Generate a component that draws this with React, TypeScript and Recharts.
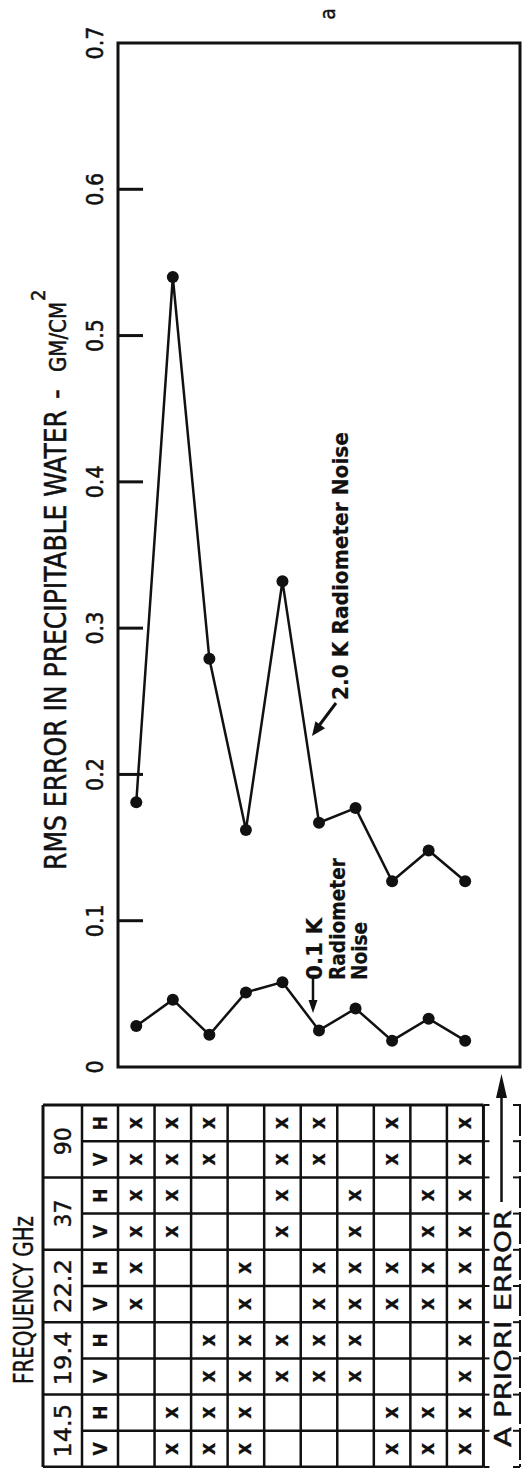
import React from 'react';
import { LineChart, Line, XAxis, YAxis, ReferenceArea } from 'recharts';

// ---------- data ----------
const caseIds = [1, 2, 3, 4, 5, 6, 7, 8, 9, 10];
const noise2K = [0.181, 0.54, 0.279, 0.162, 0.332, 0.167, 0.177, 0.127, 0.148, 0.127];
const noise01K = [0.028, 0.046, 0.022, 0.051, 0.058, 0.025, 0.04, 0.018, 0.033, 0.018];
const yTicks = [0, 0.1, 0.2, 0.3, 0.4, 0.5, 0.6, 0.7];
const yTickLabels = ['0', '0.1', '0.2', '0.3', '0.4', '0.5', '0.6', '0.7'];

// frequency channels (GHz); both polarisations (V, H) used in the same cases
const freqLabels = ['14.5', '19.4', '22.2', '37', '90'];
const polLabels = ['V', 'H'];
const use14_5 = [2, 3, 4, 8, 9, 10];
const use19_4 = [3, 4, 5, 6, 7, 10];
const use22_2 = [1, 4, 6, 7, 8, 9, 10];
const use37 = [1, 2, 5, 7, 9, 10];
const use90 = [1, 2, 3, 5, 6, 8, 10];
const freqUse = [use14_5, use19_4, use22_2, use37, use90];

const data = caseIds.map((c, i) => ({ pos: c - 0.5, hi: noise2K[i], lo: noise01K[i] }));

// ---------- layout ----------
const W = 523;
const H = 1468;
const PLOT_L = 118;
const PLOT_R = 520;
const PLOT_T = 43;
const PLOT_B = 1067;
const NBANDS = 11;
const BAND = (PLOT_R - PLOT_L) / NBANDS;
const T_TOP = 1105;
const ROW_H = 36.2;
const T_LEFT = 43;
const T_FREQ = 82;
const FONT = "'DejaVu Sans Condensed', 'Liberation Sans Narrow', 'DejaVu Sans', sans-serif";
const INK = '#111';

const YTick = (props: any) => {
  const { x, y, payload, index } = props;
  const v = payload.value;
  return (
    <g>
      {v > 0 && v < 0.7 ? (
        <line x1={x} x2={x + 25} y1={y} y2={y} stroke={INK} strokeWidth={3} />
      ) : null}
      <text
        transform={`translate(${x - 15},${y}) rotate(-90)`}
        textAnchor="middle"
        fontSize={23}
        fontFamily={FONT}
        fill={INK}
        stroke={INK}
        strokeWidth={0.5}
      >
        {yTickLabels[index] ?? String(v)}
      </text>
    </g>
  );
};

const RText = ({ x, y, size, children, anchor = 'start', len, weight = 'normal', sw = 0.4 }: any) => (
  <text
    transform={`translate(${x},${y}) rotate(-90)`}
    textAnchor={anchor}
    fontSize={size}
    fontFamily={FONT}
    fontWeight={weight}
    fill={INK}
    stroke={INK}
    strokeWidth={sw}
    textLength={len}
    lengthAdjust={len ? 'spacingAndGlyphs' : undefined}
  >
    {children}
  </text>
);

const Overlay = () => {
  const colX = (k: number) => PLOT_L + k * BAND;
  const T_RIGHT = colX(10);
  const T_BOT = T_TOP + 10 * ROW_H;
  const rowTop = (r: number) => T_TOP + r * ROW_H; // r = 0 at the top
  const els: any[] = [];

  for (let r = 0; r <= 10; r++) {
    const y = rowTop(r);
    const full = r % 2 === 0;
    els.push(
      <line key={'h' + r} x1={full ? T_LEFT : T_FREQ} x2={T_RIGHT} y1={y} y2={y} stroke={INK}
        strokeWidth={r === 0 || r === 10 ? 3 : 2.5} />
    );
    els.push(<line key={'ht' + r} x1={T_RIGHT} x2={T_RIGHT + 6} y1={y} y2={y} stroke={INK} strokeWidth={2} />);
    els.push(<line key={'hr' + r} x1={PLOT_R - 7} x2={PLOT_R} y1={y} y2={y} stroke={INK} strokeWidth={2} />);
  }
  const vx = [T_LEFT, T_FREQ];
  for (let k = 0; k <= 10; k++) vx.push(colX(k));
  vx.forEach((x, i) =>
    els.push(<line key={'v' + i} x1={x} x2={x} y1={T_TOP} y2={T_BOT} stroke={INK}
      strokeWidth={i === 0 || i === vx.length - 1 ? 3 : 2.5} />)
  );
  els.push(<line key="rb" x1={PLOT_R} x2={PLOT_R} y1={T_TOP - 1} y2={T_BOT} stroke={INK} strokeWidth={2} strokeDasharray="32 4" />);

  freqLabels.forEach((f, fi) => {
    const rTopRow = 8 - fi * 2;
    const cy = rowTop(rTopRow) + ROW_H;
    els.push(
      <RText key={'f' + fi} x={71} y={cy} size={23} anchor="middle" len={f.length > 2 ? 54 : 28}>
        {f}
      </RText>
    );
    polLabels.forEach((p, pi) => {
      const r = pi === 0 ? rTopRow + 1 : rTopRow;
      const ry = rowTop(r) + ROW_H / 2;
      els.push(
        <RText key={'p' + fi + p} x={107} y={ry} size={19} anchor="middle" weight="bold" sw={0.2}>
          {p}
        </RText>
      );
      freqUse[fi].forEach((c) => {
        const cx = colX(c - 1) + BAND / 2;
        els.push(
          <RText key={'x' + fi + p + c} x={cx + 5.5} y={ry} size={21} anchor="middle" weight="bold" sw={0.2}>
            x
          </RText>
        );
      });
    });
  });

  return (
    <svg width={W} height={H} style={{ position: 'absolute', left: 0, top: 0, pointerEvents: 'none' }}>
      <RText x={335} y={14} size={21} anchor="middle">a</RText>

      {/* axis title */}
      <text transform="translate(66,870) rotate(-90)" fontFamily={FONT} fill={INK} stroke={INK} strokeWidth={0.5} fontSize={30}>
        <tspan x={0} y={0} textLength={460} lengthAdjust="spacingAndGlyphs">RMS ERROR IN PRECIPITABLE WATER</tspan>
        <tspan x={471} y={0}>-</tspan>
        <tspan x={498} y={0} fontSize={23} textLength={70} lengthAdjust="spacingAndGlyphs">GM/CM</tspan>
        <tspan x={569} y={-21} fontSize={20}>2</tspan>
      </text>

      {/* 2.0 K annotation */}
      <RText x={348} y={700} size={21} len={268} weight="bold" sw={0.2}>2.0 K Radiometer Noise</RText>
      <line x1={336} y1={703} x2={318} y2={727} stroke={INK} strokeWidth={3} />
      <polygon points="312,736 325.1,728.2 315.4,721.2" fill={INK} />

      {/* 0.1 K annotation */}
      <RText x={322} y={980} size={21} len={62} weight="bold" sw={0.2}>0.1 K</RText>
      <RText x={345} y={980} size={21} len={122} weight="bold" sw={0.2}>Radiometer</RText>
      <RText x={367} y={980} size={21} len={58} weight="bold" sw={0.2}>Noise</RText>
      <line x1={313} y1={976} x2={313} y2={1001} stroke={INK} strokeWidth={2.5} />
      <polygon points="313,1013 308.5,1000 317.5,1000" fill={INK} />

      {/* table */}
      {els}
      <RText x={33} y={1300} size={27} anchor="middle" len={168}>FREQUENCY GHz</RText>

      {/* a priori error */}
      <RText x={511} y={1447} size={23} len={237}>A PRIORI ERROR</RText>
      <line x1={501.5} y1={1202} x2={501.5} y2={1094} stroke={INK} strokeWidth={2.5} />
      <polygon points="501.5,1074 496,1098 507,1098" fill={INK} />
    </svg>
  );
};

export default function App() {
  return (
    <div style={{ position: 'absolute', left: 0, top: 0, width: W, height: H, background: '#fff', overflow: 'hidden' }}>
      <LineChart
        width={W}
        height={H}
        data={data}
        margin={{ top: PLOT_T, right: W - PLOT_R, bottom: H - PLOT_B, left: 0 }}
      >
        <XAxis dataKey="pos" type="number" domain={[0, NBANDS]} hide allowDataOverflow />
        <YAxis
          type="number"
          domain={[0, 0.7]}
          ticks={yTicks}
          interval={0}
          width={PLOT_L}
          axisLine={false}
          tickLine={false}
          tickSize={0}
          tickMargin={0}
          tick={(p: any) => <YTick {...p} />}
        />
        <ReferenceArea x1={0} x2={NBANDS} y1={0} y2={0.7} fill="none" fillOpacity={0} stroke={INK} strokeWidth={3} ifOverflow="visible" />
        <Line type="linear" dataKey="hi" stroke={INK} strokeWidth={2.5} dot={{ r: 6, fill: INK, stroke: INK, strokeWidth: 0 }} isAnimationActive={false} />
        <Line type="linear" dataKey="lo" stroke={INK} strokeWidth={2.5} dot={{ r: 6, fill: INK, stroke: INK, strokeWidth: 0 }} isAnimationActive={false} />
      </LineChart>
      <Overlay />
    </div>
  );
}
